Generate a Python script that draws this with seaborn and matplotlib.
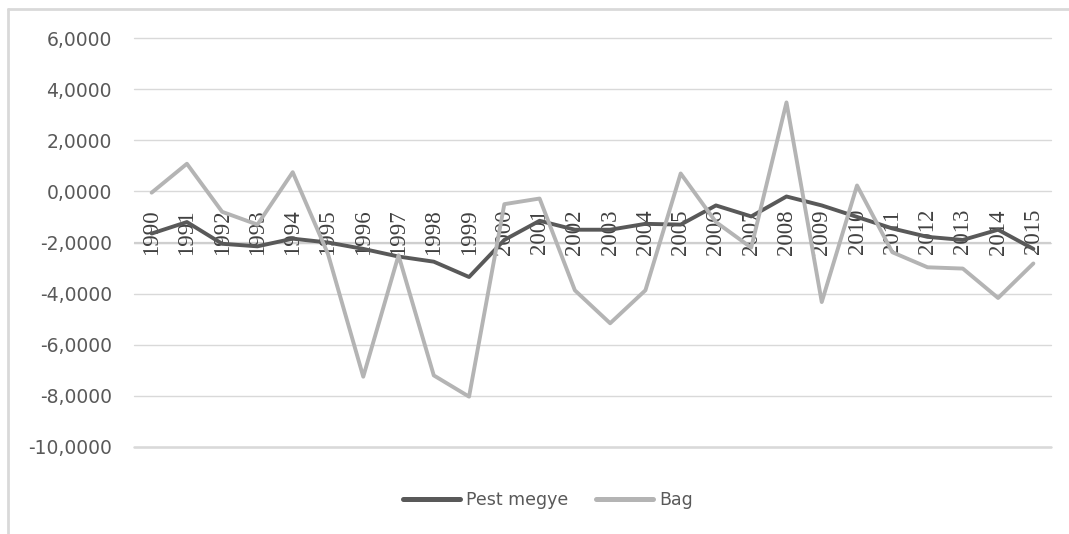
import matplotlib
matplotlib.use("Agg")
import numpy as np
import pandas as pd
import matplotlib.pyplot as plt
import seaborn as sns
from matplotlib.lines import Line2D

# data
years = [str(y) for y in range(1990, 2016)]
pest_megye = [-1.65, -1.20, -2.05, -2.15, -1.85, -2.00, -2.25, -2.55, -2.75, -3.35,
              -1.90, -1.15, -1.50, -1.50, -1.27, -1.30, -0.55, -0.98, -0.20, -0.55,
              -1.00, -1.45, -1.78, -1.90, -1.50, -2.25]
bag = [-0.05, 1.08, -0.80, -1.30, 0.75, -2.45, -7.25, -2.50, -7.20, -8.03,
       -0.50, -0.28, -3.87, -5.16, -3.87, 0.70, -1.20, -2.20, 3.48, -4.33,
       0.23, -2.38, -2.97, -3.02, -4.17, -2.82]
series_names = ["Pest megye", "Bag"]
y_ticks = [6, 4, 2, 0, -2, -4, -6, -8, -10]

df = pd.DataFrame({
    "year": years * 2,
    "value": pest_megye + bag,
    "series": [series_names[0]] * len(years) + [series_names[1]] * len(years),
})
df["pos"] = list(range(len(years))) * 2

sns.set_style("white")
plt.rcParams["font.family"] = ["DejaVu Sans"]
plt.rcParams["font.serif"] = ["Liberation Serif", "DejaVu Serif"]

fig = plt.figure(figsize=(10.69, 5.34), dpi=100)
ax = fig.add_axes([134 / 1069, 1 - 447 / 534, (1051 - 134) / 1069, (447 - 38) / 534])

# gridlines
for t in y_ticks:
    ax.axhline(t, color="#d9d9d9", lw=1.0, zorder=0, clip_on=False)
ax.axhline(-10, color="#d9d9d9", lw=1.8, zorder=0, clip_on=False)
# category axis line (crosses at -2 in the reference)
ax.axhline(-2, color="#cfcfcf", lw=1.6, zorder=0.5)

sns.lineplot(data=df, x="pos", y="value", hue="series",
             palette={"Pest megye": "#595959", "Bag": "#b4b4b4"},
             hue_order=series_names, linewidth=2.8, ax=ax, legend=False, zorder=3)

ax.set_xlim(-0.5, len(years) - 0.5)
ax.set_ylim(-10, 6)
ax.set_yticks(y_ticks)
ax.set_yticklabels([f"{t:,.4f}".replace(".", ",") for t in y_ticks],
                   fontsize=13.5, color="#595959")
ax.tick_params(axis="y", length=0, pad=16)
ax.set_xticks([])
ax.set_xlabel("")
ax.set_ylabel("")
for s in ax.spines.values():
    s.set_visible(False)

# rotated year labels sitting around the axis line
for i, yr in enumerate(years):
    ax.text(i, -1.58, yr, rotation=90, ha="center", va="center",
            fontsize=16.5, family="serif", color="#404040", zorder=2)

# legend
handles = [Line2D([], [], color="#595959", lw=3.6),
           Line2D([], [], color="#b4b4b4", lw=3.6)]
leg = fig.legend(handles, series_names, loc="center", bbox_to_anchor=(548 / 1069, 1 - 500 / 534),
                 ncol=2, frameon=False, fontsize=12.5, handlelength=3.3, handletextpad=0.35,
                 columnspacing=1.6)
for t in leg.get_texts():
    t.set_color("#595959")

# chart frame (top and left edges)
fig.add_artist(Line2D([8 / 1069, 1.0], [1 - 9 / 534] * 2, transform=fig.transFigure,
                      color="#d9d9d9", lw=2.0))
fig.add_artist(Line2D([8 / 1069] * 2, [0.0, 1 - 9 / 534], transform=fig.transFigure,
                      color="#d9d9d9", lw=2.0))

fig.savefig("out.png", dpi=100)
